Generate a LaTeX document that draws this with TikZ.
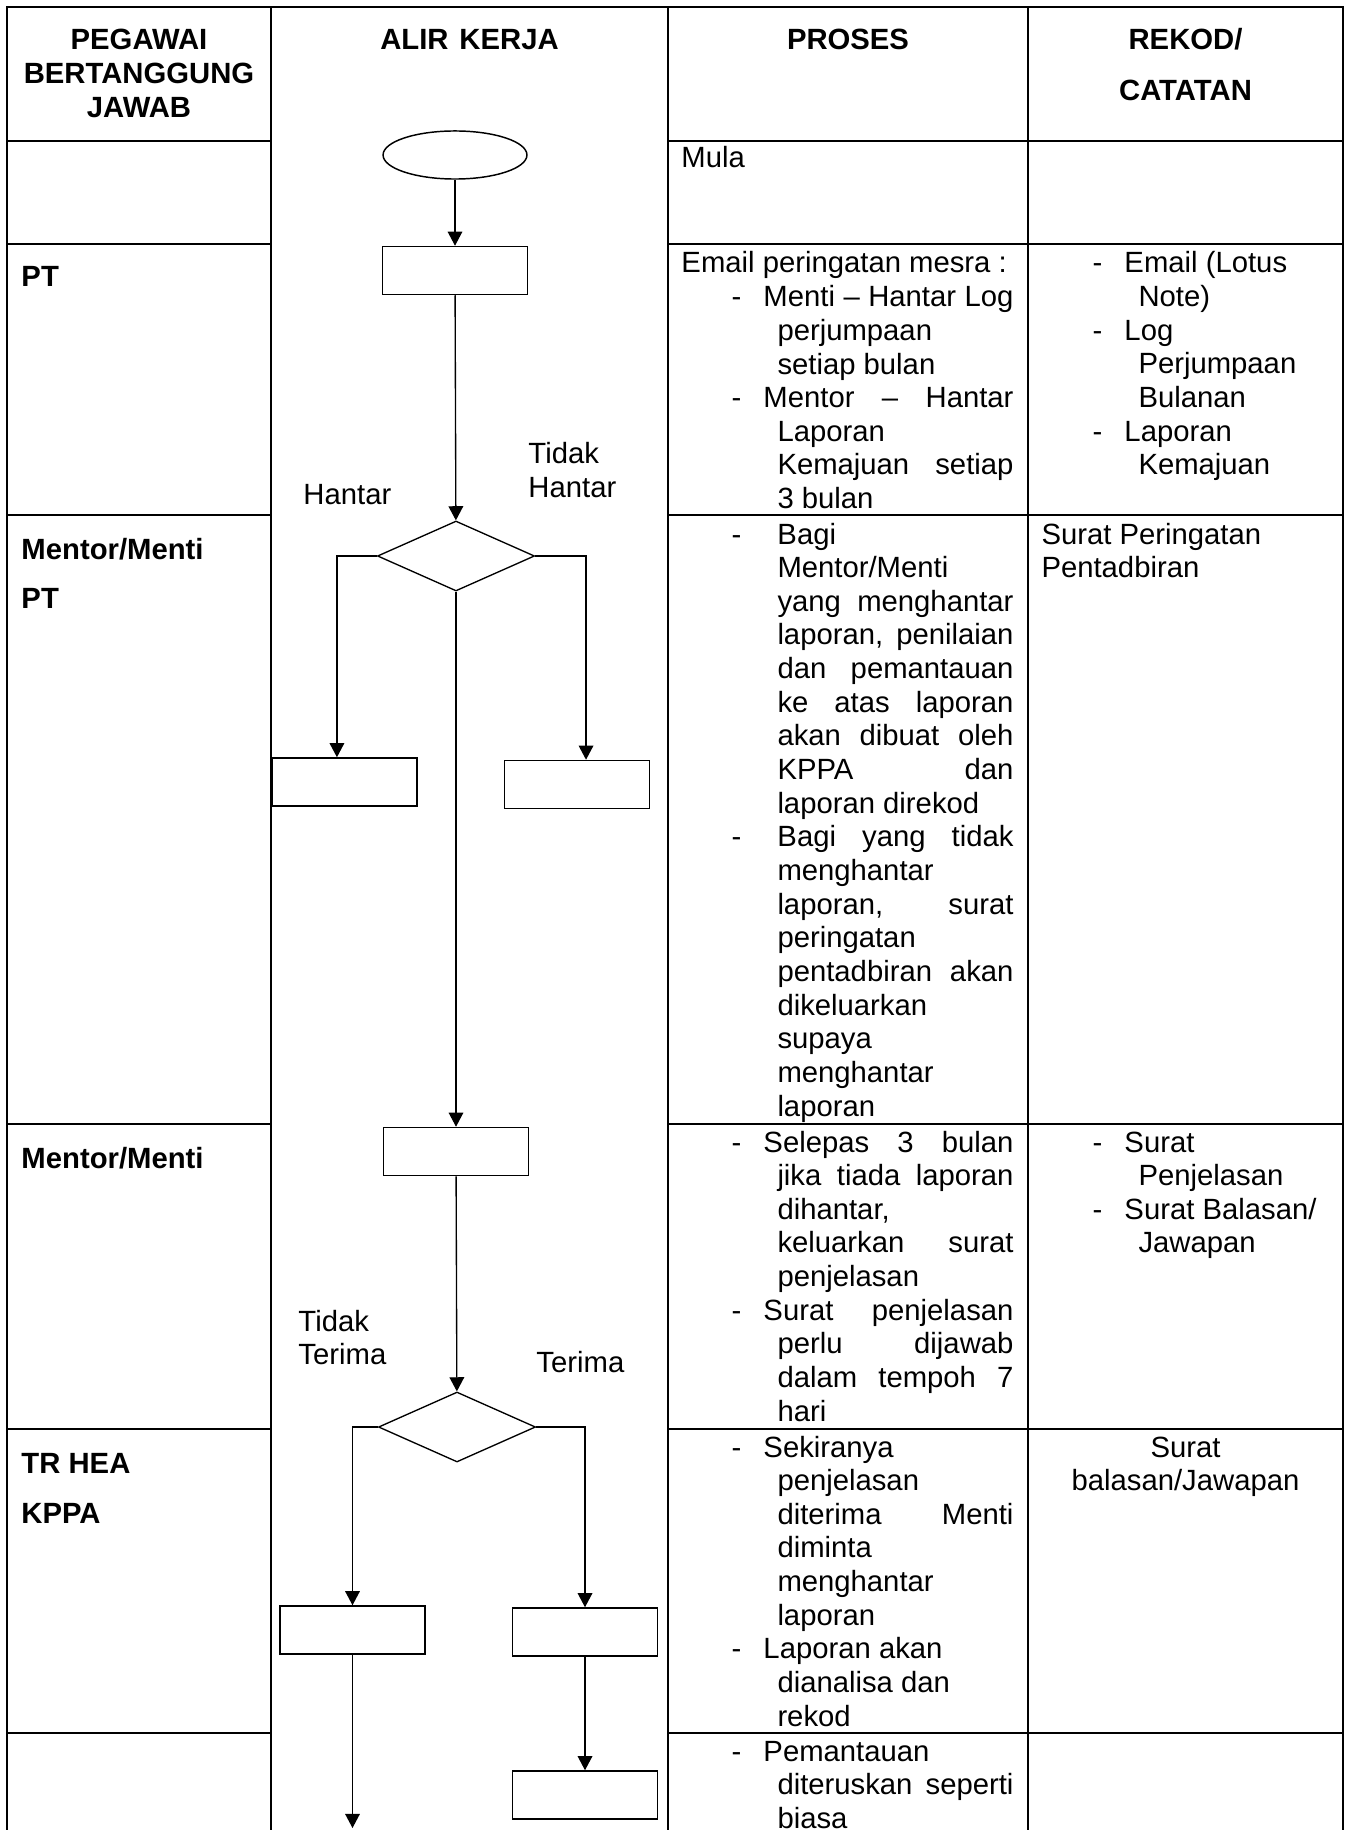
\documentclass[tikz,border=0pt]{standalone}
\usepackage{fontspec}
\setmainfont{Liberation Sans}
\usetikzlibrary{shapes.geometric,arrows.meta}
\setlength{\parindent}{0pt}
\newlength{\dpx}
\setlength{\dpx}{0.41pt}
\newcommand{\sengkang}[1]{\makebox[#1\dpx][l]{-}}
\newcommand{\lurus}[2]{\makebox[#1\dpx][s]{#2}}
\newcommand{\inden}{\hspace*{46\dpx}}
\begin{document}
\begin{tikzpicture}[x=0.41pt,y=-0.41pt,
	garis/.style={line width=0.85pt},
	teks/.style={anchor=base west,inner sep=0,text width=123pt,align=left,font=\fontsize{12pt}{13.8pt}\selectfont,
		execute at begin node={\spaceskip=0pt\xspaceskip=0pt}},
	tebal/.style={teks,font=\fontsize{12pt}{13.8pt}\selectfont\bfseries},
	kepala/.style={anchor=base,inner sep=0,text width=106pt,align=center,font=\fontsize{12pt}{13.94pt}\selectfont\bfseries,
		execute at begin node={\spaceskip=0pt\xspaceskip=0pt}},
	kotak/.style={draw,line width=0.6pt,minimum width=59.45pt,minimum height=19.7pt,inner sep=0},
	intan/.style={draw,diamond,aspect=2.24,line width=0.55pt,minimum width=64.4pt,minimum height=28.7pt,inner sep=0},
	bujur/.style={draw,ellipse,line width=0.6pt,minimum width=59pt,minimum height=19.7pt,inner sep=0},
	alir/.style={line width=0.55pt,-{Triangle[length=5.8pt,width=6pt]}}]
	\useasboundingbox (0,0) rectangle (1351,1830);
	% jadual
	\draw[garis] (7,1830) -- (7,7) -- (1343,7) -- (1343,1830);
	\draw[garis] (271,7) -- (271,1830);
	\draw[garis] (668,7) -- (668,1830);
	\draw[garis] (1028,7) -- (1028,1830);
	\foreach \y in {141,244,515,1124,1429,1733} {
		\draw[garis] (7,\y) -- (271,\y);
		\draw[garis] (668,\y) -- (1343,\y);
	}
	\node[kepala] (pegawai) at (139,50) {PEGAWAI\\BERTANGGUNG\\JAWAB};
	\node[kepala] (alirkerja) at (469.5,50) {ALIR KERJA};
	\node[kepala] (proses) at (848,50) {PROSES};
	\node[kepala] (rekodcatatan) at (1185.5,50) {REKOD/\\[6.7pt]CATATAN};
	% pegawai
	\node[tebal] (p1) at (21,287) {PT};
	\node[tebal] (p2) at (21,560) {Mentor/Menti\\[5.9pt]PT};
	\node[tebal] (p3) at (21,1168) {Mentor/Menti};
	\node[tebal] (p4) at (21,1473) {TR HEA\\[7.1pt]KPPA};
	% alir kerja
	\node[bujur] (mula) at (455,155) {};
	\node[kotak] (emel) at (455,270.5) {};
	\node[intan] (hantar) at (456,556) {};
	\node[kotak] (rekod) at (344.5,782) {};
	\node[kotak] (amaran) at (577,784.5) {};
	\node[kotak] (jelas) at (456,1151.5) {};
	\node[intan] (terima) at (457,1427) {};
	\node[kotak] (tolak) at (352.5,1630) {};
	\node[kotak] (lapor) at (585,1632) {};
	\node[kotak] (pantau) at (585,1795) {};
	\coordinate (hujung) at (352.5,1828);
	\draw[alir] (mula) -- (emel);
	\draw[alir] (emel) -- (hantar);
	\draw[alir] (hantar.west) -| ([xshift=-3.1pt]rekod.north);
	\draw[alir] (hantar.east) -| ([xshift=3.7pt]amaran.north);
	\draw[alir] (hantar) -- (jelas);
	\draw[alir] (jelas) -- (terima);
	\draw[alir] (terima.west) -| (tolak.north);
	\draw[alir] (terima.east) -| (lapor.north);
	\draw[alir] (tolak) -- (hujung);
	\draw[alir] (lapor) -- (pantau);
	\node[teks,text width=40pt] (lhantar) at (303,505) {Hantar};
	\node[teks,text width=40pt] (ltidakhantar) at (528,464) {Tidak\\Hantar};
	\node[teks,text width=40pt] (ltidakterima) at (298,1331) {Tidak\\Terima};
	\node[teks,text width=40pt] (lterima) at (536,1372) {Terima};
	% proses
	\node[teks] (s1) at (681,168) {Mula};
	\node[teks,text width=150pt] (s2) at (681,273) {Email peringatan mesra :};
	\node[teks] (s2a) at (731,306.7) {\sengkang{32}\lurus{250}{Menti – Hantar Log}\\
		\inden perjumpaan\\
		\inden setiap bulan\\
		\sengkang{32}\lurus{250}{Mentor – Hantar}\\
		\inden Laporan\\
		\inden\lurus{236}{Kemajuan setiap}\\
		\inden 3 bulan};
	\node[teks] (s3) at (731,544) {\sengkang{46}Bagi\\
		\inden Mentor/Menti\\
		\inden\lurus{236}{yang menghantar}\\
		\inden\lurus{236}{laporan, penilaian}\\
		\inden\lurus{236}{dan pemantauan}\\
		\inden\lurus{236}{ke atas laporan}\\
		\inden\lurus{236}{akan dibuat oleh}\\
		\inden\lurus{236}{KPPA dan}\\
		\inden laporan direkod\\
		\sengkang{46}\lurus{236}{Bagi yang tidak}\\
		\inden menghantar\\
		\inden\lurus{236}{laporan, surat}\\
		\inden peringatan\\
		\inden\lurus{236}{pentadbiran akan}\\
		\inden dikeluarkan\\
		\inden supaya\\
		\inden menghantar\\
		\inden laporan};
	\node[teks] (s4) at (731,1152) {\sengkang{32}\lurus{250}{Selepas 3 bulan}\\
		\inden\lurus{236}{jika tiada laporan}\\
		\inden dihantar,\\
		\inden\lurus{236}{keluarkan surat}\\
		\inden penjelasan\\
		\sengkang{32}\lurus{250}{Surat penjelasan}\\
		\inden\lurus{236}{perlu dijawab}\\
		\inden\lurus{236}{dalam tempoh 7}\\
		\inden hari};
	\node[teks] (s5) at (731,1457) {\sengkang{32}Sekiranya\\
		\inden penjelasan\\
		\inden\lurus{236}{diterima Menti}\\
		\inden diminta\\
		\inden menghantar\\
		\inden laporan\\
		\sengkang{32}Laporan akan\\
		\inden dianalisa dan\\
		\inden rekod};
	\node[teks] (s6) at (731,1761) {\sengkang{32}Pemantauan\\
		\inden\lurus{236}{diteruskan seperti}\\
		\inden biasa};
	% rekod / catatan
	\node[teks,text width=100pt] (r2) at (1092,273) {\sengkang{32}Email (Lotus\\
		\inden Note)\\
		\sengkang{32}Log\\
		\inden Perjumpaan\\
		\inden Bulanan\\
		\sengkang{32}Laporan\\
		\inden Kemajuan};
	\node[teks,text width=120pt] (r3) at (1041,544) {Surat Peringatan\\Pentadbiran};
	\node[teks,text width=100pt] (r4) at (1092,1152) {\sengkang{32}Surat\\
		\inden Penjelasan\\
		\sengkang{32}Surat Balasan/\\
		\inden Jawapan};
	\node[teks,anchor=base,align=center] (r5) at (1185.5,1457) {Surat\\balasan/Jawapan};
\end{tikzpicture}
\end{document}
